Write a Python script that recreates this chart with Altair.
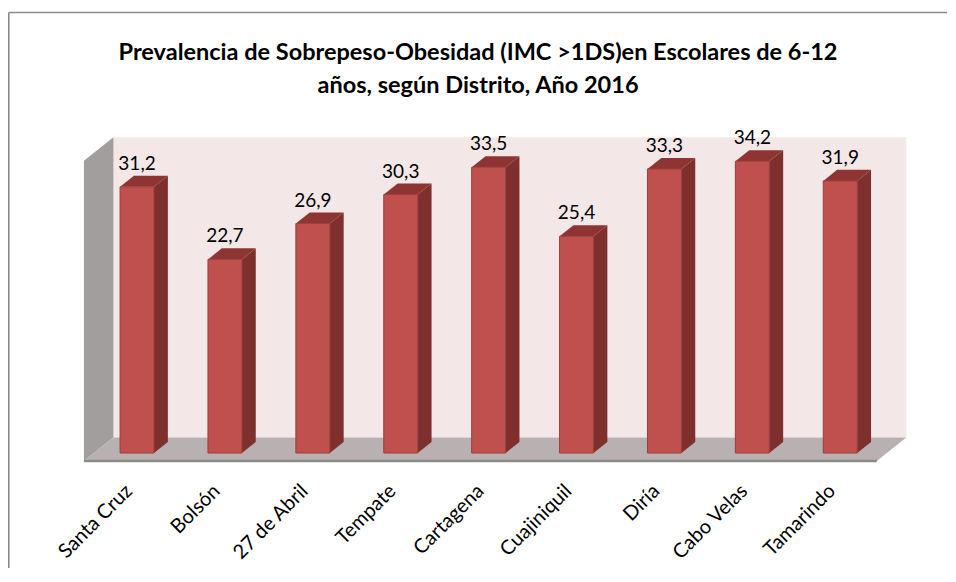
import altair as alt
import pandas as pd

# ---- data ----
categories = ["Santa Cruz", "Bolsón", "27 de Abril", "Tempate", "Cartagena",
              "Cuajiniquil", "Diría", "Cabo Velas", "Tamarindo"]
values = [31.2, 22.7, 26.9, 30.3, 33.5, 25.4, 33.3, 34.2, 31.9]
title_lines = ["Prevalencia de Sobrepeso-Obesidad (IMC >1DS)en Escolares de 6-12",
               "años, según Distrito, Año 2016"]

# ---- layout constants (oblique 3-D projection) ----
SX, SY = 87.9, 8.53          # px per category, px per value unit
DXP, DYP = 29.5, 23.5        # full depth vector in px
ORIGIN_X, ORIGIN_Y = 127.0, 461.0
Z_F, Z_B = 0.34, 0.81        # bar front / back depth
HW = 0.193                   # half bar width (category units)
X_LEFT, X_RIGHT = -0.49, 8.53
WALL_TOP = 35.2
PAD_L, PAD_T = 1, 4
VIEW_W, VIEW_H = 938, 556
FRAME_X, FRAME_Y = 8.7, 12.6
FRAME_END_X, FRAME_END_Y = 947, 600
FONT = "Lato"


def xu(x3, z):
    return x3 + DXP / SX * z


def yu(y3, z):
    return y3 + DYP / SY * z


def px_to_xu(p):
    return (p - ORIGIN_X) / SX


def px_to_yu(p):
    return (ORIGIN_Y - p) / SY


vx0, vy0 = 8 + PAD_L, 8 + PAD_T
x_dom = [px_to_xu(vx0), px_to_xu(vx0 + VIEW_W)]
y_dom = [px_to_yu(vy0 + VIEW_H), px_to_yu(vy0)]
xs = alt.Scale(domain=x_dom, nice=False, zero=False)
ys = alt.Scale(domain=y_dom, nice=False, zero=False)


def X(f):
    return alt.X(f, type="quantitative", scale=xs, axis=None)


def Y(f):
    return alt.Y(f, type="quantitative", scale=ys, axis=None, stack=None)


# ---- frame surfaces ----
back_df = pd.DataFrame({"x": [xu(X_LEFT, 1)], "x2": [xu(X_RIGHT, 1)],
                        "y": [yu(0, 1)], "y2": [yu(WALL_TOP, 1)]})
left_df = pd.DataFrame({"x": [xu(X_LEFT, 0), xu(X_LEFT, 1)],
                        "y": [yu(WALL_TOP, 0), yu(WALL_TOP, 1)],
                        "y2": [yu(0, 0), yu(0, 1)]})
floor_df = pd.DataFrame({"y": [yu(0, 0), yu(0, 1)],
                         "x": [xu(X_LEFT, 0), xu(X_LEFT, 1)],
                         "x2": [xu(X_RIGHT, 0), xu(X_RIGHT, 1)]})
edge_df = pd.DataFrame({"x": [xu(X_LEFT, 0)], "x2": [xu(X_RIGHT, 0)], "y": [yu(0, 0)]})
frame_v = pd.DataFrame({"x": [px_to_xu(FRAME_X)], "y": [px_to_yu(FRAME_Y)],
                        "y2": [px_to_yu(FRAME_END_Y)]})
frame_h = pd.DataFrame({"x": [px_to_xu(FRAME_X)], "x2": [px_to_xu(FRAME_END_X)],
                        "y": [px_to_yu(FRAME_Y)]})

# ---- bars ----
rows_front, rows_side, rows_top, rows_lab, rows_cat = [], [], [], [], []
for i, (c, v) in enumerate(zip(categories, values)):
    rows_front.append({"cat": c, "x": xu(i - HW, Z_F), "x2": xu(i + HW, Z_F),
                       "y": yu(0, Z_F), "y2": yu(v, Z_F)})
    for z in (Z_F, Z_B):
        rows_side.append({"cat": c, "x": xu(i + HW, z),
                          "y": yu(v, z), "y2": yu(0, z)})
        rows_top.append({"cat": c, "y": yu(v, z),
                         "x": xu(i - HW, z), "x2": xu(i + HW, z)})
    rows_lab.append({"x": xu(i, Z_F), "y": yu(v, Z_B) + 6 / SY,
                     "t": f"{v:.1f}".replace(".", ",")})
    rows_cat.append({"x": xu(i, Z_F) - 15 / SX, "y": yu(0, 0) - 20 / SY, "t": c})

front_df = pd.DataFrame(rows_front)
side_df = pd.DataFrame(rows_side)
top_df = pd.DataFrame(rows_top)
lab_df = pd.DataFrame(rows_lab)
cat_df = pd.DataFrame(rows_cat)

back = alt.Chart(back_df).mark_rect(color="#F3E7E7").encode(
    x=X("x"), x2="x2", y=Y("y"), y2="y2")
left = alt.Chart(left_df).mark_area(color="#A39E9E", orient="vertical").encode(
    x=X("x"), y=Y("y"), y2="y2")
floor = alt.Chart(floor_df).mark_area(color="#B9B1B1", orient="horizontal").encode(
    y=Y("y"), x=X("x"), x2="x2")
edge = alt.Chart(edge_df).mark_rule(color="#8A8A8A", strokeWidth=2.5).encode(
    x=X("x"), x2="x2", y=Y("y"))
fv = alt.Chart(frame_v).mark_rule(color="#8A8A8A", strokeWidth=1.5).encode(
    x=X("x"), y=Y("y"), y2="y2")
fh = alt.Chart(frame_h).mark_rule(color="#8A8A8A", strokeWidth=1.5).encode(
    x=X("x"), x2="x2", y=Y("y"))

side = alt.Chart(side_df).mark_area(color="#7D302E", orient="vertical").encode(
    x=X("x"), y=Y("y"), y2="y2", detail="cat:N")
top = alt.Chart(top_df).mark_area(color="#8E3533", orient="horizontal").encode(
    y=Y("y"), x=X("x"), x2="x2", detail="cat:N")
front = alt.Chart(front_df).mark_rect(color="#C0504D", stroke="#9C3D3A",
                                      strokeWidth=1).encode(
    x=X("x"), x2="x2", y=Y("y"), y2="y2")

labels = alt.Chart(lab_df).mark_text(font=FONT, fontSize=19, color="#000000",
                                     baseline="alphabetic", align="center").encode(
    x=X("x"), y=Y("y"), text="t:N")
cats = alt.Chart(cat_df).mark_text(font=FONT, fontSize=20, color="#000000",
                                   angle=315, align="right", baseline="top").encode(
    x=X("x"), y=Y("y"), text="t:N")

chart = alt.layer(fv, fh, back, left, floor, edge, side, top, front, labels, cats).properties(
    width=VIEW_W, height=VIEW_H,
    padding={"left": PAD_L, "top": PAD_T, "right": 0, "bottom": 0},
    autosize=alt.AutoSizeParams(type="none"),
    title=alt.TitleParams(text=title_lines, font=FONT, fontSize=23.5, fontWeight="bold",
                          color="#000000", anchor="middle", dx=0, offset=-86,
                          lineHeight=33),
).configure_view(stroke="transparent").configure(background="white")

chart.save("out.html", embed_options={"renderer": "svg", "actions": False})
